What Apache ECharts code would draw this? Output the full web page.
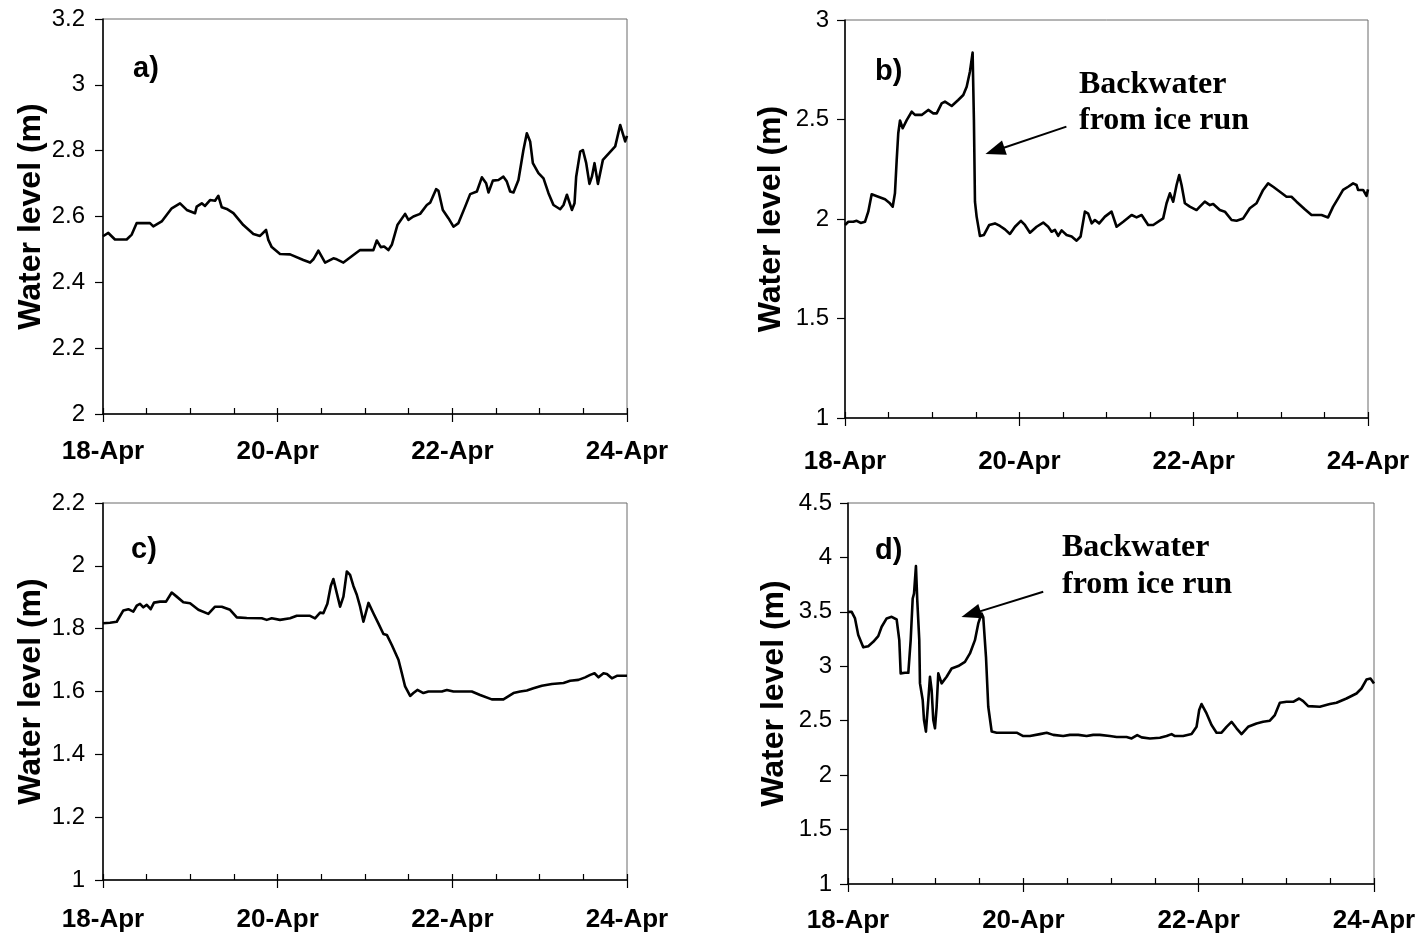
<!DOCTYPE html>
<html>
<head>
<meta charset="utf-8">
<script src="https://cdn.jsdelivr.net/npm/echarts@6/dist/echarts.min.js"></script>
<style>
html,body{margin:0;padding:0;background:#fff;}
#chart{width:1421px;height:940px;}
</style>
</head>
<body>
<div id="chart"></div>
<script>
// ---- Tick labels ----
const xLabels = ['18-Apr', '20-Apr', '22-Apr', '24-Apr'];
const yTitle = 'Water level (m)';
const panelLetters = ['a)', 'b)', 'c)', 'd)'];
const noteLines = ['Backwater', 'from ice run'];

// ---- Panel a (days since 18-Apr 00:00, water level m) ----
const aDay = [0.00,0.061,0.137,0.271,0.329,0.386,0.538,0.576,0.672,0.787,0.882,0.959,1.054,1.073,1.131,1.168,1.226,1.283,1.321,1.360,1.417,1.493,1.607,1.722,1.798,1.867,1.893,1.932,2.027,2.142,2.294,2.371,2.409,2.466,2.543,2.638,2.677,2.753,2.867,2.944,3.096,3.135,3.181,3.219,3.268,3.307,3.371,3.459,3.497,3.554,3.631,3.708,3.746,3.814,3.841,3.891,3.955,4.013,4.070,4.147,4.204,4.281,4.338,4.387,4.414,4.464,4.528,4.585,4.624,4.662,4.700,4.757,4.814,4.853,4.891,4.922,4.986,5.044,5.101,5.158,5.235,5.273,5.312,5.369,5.399,5.418,5.464,5.495,5.533,5.570,5.598,5.628,5.667,5.724,5.865,5.922,5.979,6.00];
const aLevel = [2.54,2.55,2.53,2.53,2.545,2.58,2.58,2.57,2.585,2.625,2.64,2.62,2.61,2.63,2.64,2.632,2.65,2.648,2.663,2.628,2.623,2.61,2.574,2.547,2.541,2.559,2.529,2.507,2.486,2.485,2.468,2.46,2.47,2.496,2.46,2.473,2.47,2.46,2.483,2.498,2.498,2.527,2.507,2.509,2.498,2.514,2.574,2.608,2.59,2.60,2.608,2.635,2.642,2.683,2.678,2.62,2.595,2.569,2.58,2.63,2.668,2.676,2.719,2.701,2.673,2.709,2.711,2.721,2.706,2.676,2.673,2.711,2.802,2.853,2.828,2.762,2.732,2.716,2.671,2.635,2.622,2.635,2.666,2.62,2.64,2.721,2.797,2.802,2.762,2.699,2.721,2.762,2.699,2.772,2.813,2.878,2.828,2.845];

// ---- Panel b ----
const bDay = [0.00,0.038,0.095,0.134,0.180,0.229,0.267,0.306,0.382,0.459,0.508,0.547,0.573,0.593,0.611,0.631,0.662,0.708,0.765,0.803,0.880,0.955,1.013,1.052,1.109,1.147,1.224,1.299,1.357,1.396,1.433,1.464,1.479,1.491,1.510,1.548,1.594,1.655,1.720,1.778,1.835,1.892,1.950,2.018,2.064,2.122,2.198,2.274,2.331,2.370,2.408,2.446,2.485,2.542,2.600,2.657,2.703,2.752,2.790,2.830,2.867,2.916,2.982,3.058,3.116,3.192,3.288,3.345,3.403,3.478,3.536,3.650,3.689,3.727,3.765,3.804,3.834,3.861,3.899,3.956,4.033,4.071,4.128,4.186,4.224,4.300,4.358,4.435,4.492,4.568,4.644,4.721,4.797,4.854,4.912,4.989,5.065,5.122,5.180,5.275,5.352,5.467,5.542,5.600,5.657,5.714,5.772,5.829,5.868,5.886,5.944,5.983,6.00];
const bLevel = [1.97,1.986,1.986,1.991,1.98,1.986,2.037,2.124,2.112,2.099,2.082,2.062,2.129,2.296,2.431,2.495,2.456,2.497,2.539,2.523,2.523,2.548,2.531,2.531,2.581,2.59,2.568,2.598,2.623,2.665,2.74,2.836,2.497,2.087,2.012,1.915,1.92,1.97,1.978,1.965,1.948,1.925,1.961,1.991,1.97,1.931,1.961,1.982,1.961,1.936,1.945,1.915,1.943,1.92,1.912,1.891,1.912,2.037,2.027,1.978,1.995,1.978,2.012,2.037,1.961,1.986,2.02,2.008,2.02,1.97,1.97,2.003,2.079,2.129,2.087,2.171,2.221,2.171,2.079,2.062,2.045,2.062,2.087,2.07,2.075,2.045,2.037,1.995,1.991,2.003,2.054,2.079,2.146,2.179,2.162,2.137,2.112,2.112,2.087,2.049,2.02,2.02,2.008,2.062,2.104,2.146,2.162,2.179,2.171,2.146,2.146,2.116,2.149];

// ---- Panel c ----
const cDay = [0.00,0.080,0.157,0.233,0.290,0.347,0.386,0.424,0.462,0.501,0.546,0.584,0.653,0.722,0.787,0.844,0.920,0.997,1.092,1.206,1.283,1.360,1.455,1.532,1.646,1.818,1.875,1.932,2.027,2.142,2.219,2.371,2.428,2.486,2.523,2.569,2.608,2.638,2.677,2.715,2.753,2.792,2.829,2.867,2.906,2.944,2.982,3.040,3.096,3.153,3.211,3.250,3.307,3.383,3.422,3.459,3.517,3.554,3.600,3.669,3.726,3.880,3.937,4.013,4.223,4.318,4.452,4.585,4.700,4.777,4.853,4.929,5.025,5.140,5.273,5.349,5.444,5.521,5.579,5.628,5.674,5.731,5.770,5.827,5.884,6.00];
const cLevel = [1.817,1.819,1.822,1.858,1.862,1.854,1.873,1.879,1.868,1.876,1.862,1.883,1.886,1.886,1.915,1.902,1.884,1.881,1.86,1.847,1.87,1.87,1.86,1.836,1.834,1.833,1.828,1.833,1.828,1.833,1.841,1.841,1.833,1.851,1.849,1.879,1.936,1.958,1.913,1.87,1.902,1.982,1.971,1.936,1.908,1.87,1.822,1.882,1.849,1.817,1.783,1.78,1.748,1.701,1.658,1.616,1.586,1.595,1.605,1.595,1.60,1.60,1.605,1.60,1.60,1.589,1.575,1.575,1.595,1.60,1.603,1.61,1.618,1.624,1.627,1.634,1.637,1.645,1.653,1.658,1.645,1.658,1.656,1.642,1.65,1.65];

// ---- Panel d ----
const dDay = [0.00,0.042,0.080,0.117,0.174,0.231,0.288,0.345,0.384,0.441,0.498,0.555,0.585,0.601,0.650,0.688,0.715,0.738,0.753,0.775,0.790,0.813,0.821,0.852,0.867,0.889,0.916,0.935,0.954,0.973,0.992,1.011,1.030,1.068,1.125,1.182,1.258,1.334,1.391,1.448,1.486,1.524,1.543,1.574,1.600,1.639,1.696,1.924,1.999,2.075,2.189,2.266,2.341,2.455,2.531,2.626,2.722,2.797,2.873,2.987,3.064,3.178,3.235,3.299,3.349,3.444,3.558,3.634,3.691,3.729,3.823,3.919,3.976,4.006,4.033,4.090,4.147,4.204,4.261,4.318,4.375,4.432,4.489,4.564,4.660,4.735,4.812,4.869,4.926,5.002,5.078,5.146,5.192,5.249,5.382,5.496,5.572,5.686,5.800,5.857,5.914,5.960,6.00];
const dLevel = [3.50,3.50,3.44,3.287,3.174,3.185,3.225,3.277,3.363,3.44,3.454,3.43,3.24,2.935,2.94,2.94,3.24,3.623,3.668,3.92,3.608,3.24,2.843,2.69,2.506,2.40,2.69,2.904,2.781,2.506,2.43,2.628,2.935,2.843,2.904,2.98,3.002,3.041,3.118,3.24,3.394,3.485,3.45,3.087,2.628,2.40,2.39,2.39,2.359,2.359,2.377,2.39,2.37,2.359,2.37,2.37,2.359,2.37,2.37,2.359,2.35,2.35,2.337,2.368,2.347,2.337,2.343,2.359,2.377,2.359,2.359,2.377,2.444,2.598,2.653,2.567,2.46,2.39,2.39,2.444,2.49,2.43,2.377,2.444,2.475,2.49,2.50,2.552,2.665,2.674,2.674,2.704,2.68,2.634,2.628,2.653,2.665,2.704,2.75,2.796,2.878,2.888,2.842];

// ---- Annotation arrows (tail -> head, in data units) ----
const bArrow = [[2.54, 2.464], [1.72, 2.343]];
const dArrow = [[2.227, 3.685], [1.403, 3.479]];

function zip(xs, ys) { return xs.map((x, i) => [x, ys[i]]); }

const SANS = "'Liberation Sans', Arial, Helvetica, sans-serif";
const SERIF = "'Liberation Serif', 'Times New Roman', serif";

const panels = [
  { grid: {left: 103, top: 19, right: 794, bottom: 526}, y: [2, 3.2, 0.2], days: aDay, level: aLevel, xMargin: 25, yMargin: 18, nameGap: 56, arrow: null },
  { grid: {left: 845, top: 20, right: 53, bottom: 522}, y: [1, 3, 0.5], days: bDay, level: bLevel, xMargin: 31, yMargin: 16, nameGap: 58, arrow: bArrow },
  { grid: {left: 103, top: 503, right: 794, bottom: 60}, y: [1, 2.2, 0.2], days: cDay, level: cLevel, xMargin: 27, yMargin: 18, nameGap: 56, arrow: null },
  { grid: {left: 848, top: 503, right: 47, bottom: 56}, y: [1, 4.5, 0.5], days: dDay, level: dLevel, xMargin: 24, yMargin: 16, nameGap: 58, arrow: dArrow }
];

const grids = [], xAxes = [], yAxes = [], series = [];
panels.forEach((p, i) => {
  grids.push(Object.assign({ show: true, borderColor: '#6a6a6a', borderWidth: 1, backgroundColor: 'transparent', containLabel: false }, p.grid));
  // main x axis: labels + outward major ticks
  xAxes.push({
    gridIndex: i, type: 'value', min: 0, max: 6, interval: 2, position: 'bottom',
    axisLine: { show: true, onZero: false, lineStyle: { color: '#000', width: 1.5 } },
    axisTick: { show: true, inside: false, length: 8, lineStyle: { color: '#000', width: 1.2 } },
    splitLine: { show: false },
    axisLabel: {
      show: true, margin: p.xMargin, color: '#000', fontFamily: SANS, fontWeight: 'bold', fontSize: 26,
      formatter: v => xLabels[Math.round(v / 2)] || ''
    }
  });
  // secondary x axis: inward half-day ticks
  xAxes.push({
    gridIndex: i, type: 'value', min: 0, max: 6, interval: 0.5, position: 'bottom',
    axisLine: { show: false, onZero: false },
    axisTick: { show: true, inside: true, length: 6, lineStyle: { color: '#000', width: 1.2 } },
    splitLine: { show: false }, axisLabel: { show: false }
  });
  yAxes.push({
    gridIndex: i, type: 'value', min: p.y[0], max: p.y[1], interval: p.y[2],
    name: yTitle, nameLocation: 'middle', nameGap: p.nameGap, nameRotate: 90,
    nameTextStyle: { color: '#000', fontFamily: SANS, fontWeight: 'bold', fontSize: 32 },
    axisLine: { show: true, onZero: false, lineStyle: { color: '#000', width: 1.5 } },
    axisTick: { show: true, inside: false, length: 8, lineStyle: { color: '#000', width: 1.2 } },
    splitLine: { show: false },
    axisLabel: { show: true, margin: p.yMargin, color: '#000', fontFamily: SANS, fontSize: 24 }
  });
  const s = {
    type: 'line', xAxisIndex: i * 2, yAxisIndex: i,
    data: zip(p.days, p.level),
    showSymbol: false, symbol: 'none', smooth: false, clip: true,
    lineStyle: { color: '#000', width: 2.6, join: 'round' }, silent: true, animation: false
  };
  if (p.arrow) {
    s.markLine = {
      silent: true, animation: false,
      symbol: ['none', 'triangle'], symbolSize: [15, 20],
      lineStyle: { color: '#000', width: 2, type: 'solid' },
      label: { show: false },
      data: [[{ coord: p.arrow[0] }, { coord: p.arrow[1] }]]
    };
  }
  series.push(s);
});

const letterPos = [[133, 69], [875, 72], [131, 550], [875, 551]];
const notePos = [[1079, 85, 121], [1062, 548, 585]];
const graphic = [];
panelLetters.forEach((t, i) => {
  graphic.push({ type: 'text', x: letterPos[i][0], y: letterPos[i][1], silent: true,
    style: { text: t, font: "bold 29px " + SANS, fill: '#000', verticalAlign: 'middle', align: 'left' } });
});
notePos.forEach(np => {
  graphic.push({ type: 'text', x: np[0], y: np[1], silent: true,
    style: { text: noteLines[0], font: "bold 32px " + SERIF, fill: '#000', verticalAlign: 'middle', align: 'left' } });
  graphic.push({ type: 'text', x: np[0], y: np[2], silent: true,
    style: { text: noteLines[1], font: "bold 32px " + SERIF, fill: '#000', verticalAlign: 'middle', align: 'left' } });
});

const chart = echarts.init(document.getElementById('chart'), null, { renderer: 'canvas' });
chart.setOption({
  animation: false,
  backgroundColor: '#fff',
  grid: grids, xAxis: xAxes, yAxis: yAxes, series: series, graphic: graphic
});
</script>
</body>
</html>
